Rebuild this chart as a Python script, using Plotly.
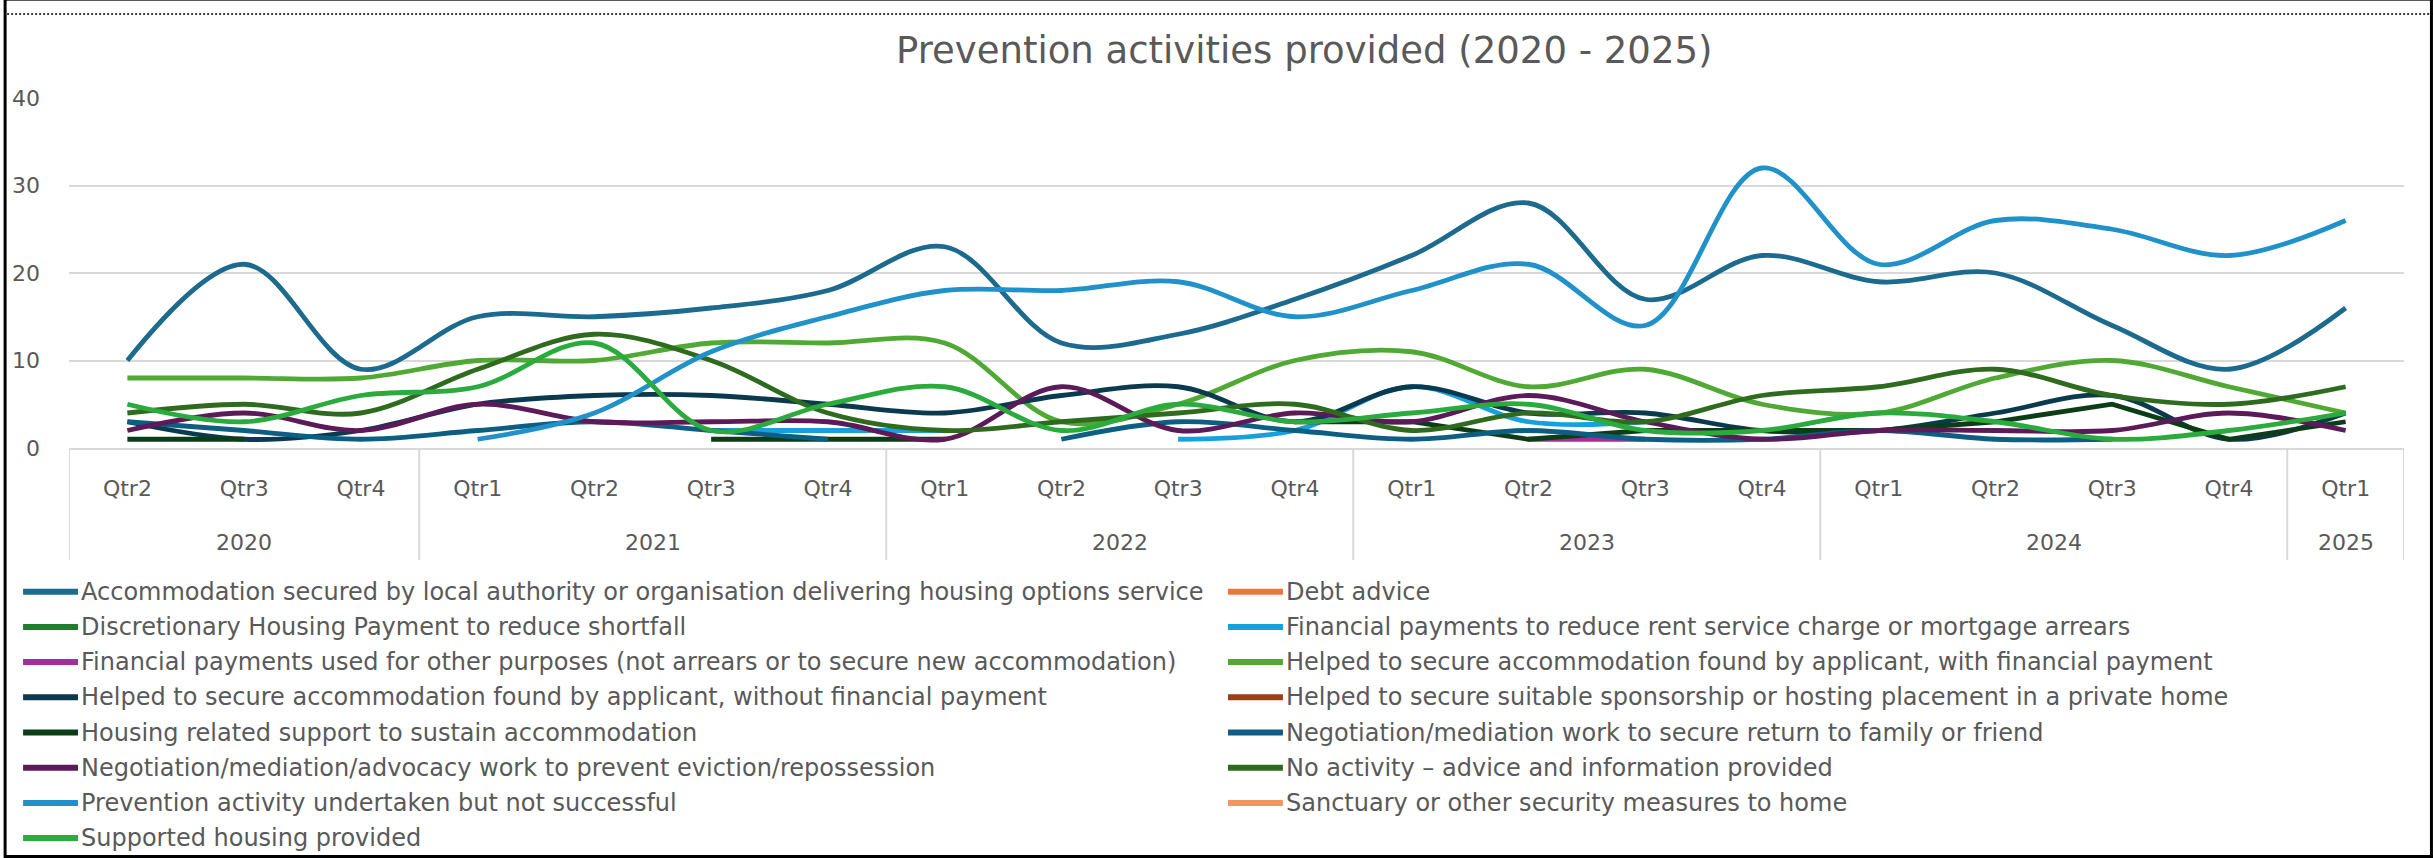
import plotly.graph_objects as go

# ---- data -------------------------------------------------------------
years = ["2020"] * 3 + ["2021"] * 4 + ["2022"] * 4 + ["2023"] * 4 + ["2024"] * 4 + ["2025"]
quarters = ["Qtr2", "Qtr3", "Qtr4",
            "Qtr1", "Qtr2", "Qtr3", "Qtr4",
            "Qtr1", "Qtr2", "Qtr3", "Qtr4",
            "Qtr1", "Qtr2", "Qtr3", "Qtr4",
            "Qtr1", "Qtr2", "Qtr3", "Qtr4",
            "Qtr1"]

accommodation_secured = [10, 21, 9, 15, 15, 16, 18, 23, 12, 13, 17, 22, 28, 17, 22, 19, 20, 14, 9, 16]
debt_advice = [None] * 20
discretionary_housing_payment = [None] * 20
financial_payments_arrears = [None, None, None, None, None, 2, 2, 2, None, 1, 2, 7, 3, 3,
                              None, None, None, None, None, None]
financial_payments_other = [None] * 12 + [1, 1] + [None] * 6
helped_with_payment = [8, 8, 8, 10, 10, 12, 12, 12, 3, 5, 10, 11, 7, 9, 5, 4, 8, 10, 7, 4]
helped_without_payment = [3, 1, 2, 5, 6, 6, 5, 4, 6, 7, 3, 7, 4, 4, 2, 2, 4, 6, 1, 4]
sponsorship_placement = [None] * 20
housing_related_support = [1, 1, None, None, None, 1, 1, 1, None, None, 3, 3, 1, 2, 2, 2, 3, 5, 1, 3]
mediation_return_family = [3, 2, 1, 2, 3, 2, 1, None, 1, 3, 2, 1, 2, 1, 1, 2, 1, 1, None, None]
mediation_prevent_eviction = [2, 4, 2, 5, 3, 3, 3, 1, 7, 2, 4, 3, 6, 3, 1, 2, 2, 2, 4, 2]
no_activity_advice = [4, 5, 4, 9, 13, 10, 4, 2, 3, 4, 5, 2, 4, 3, 6, 7, 9, 6, 5, 7]
prevention_unsuccessful = [None, None, None, 1, 4, 11, 15, 18, 18, 19, 15, 18, 21, 14, 32, 21, 26, 25, 22, 26]
sanctuary_measures = [None] * 20
supported_housing = [5, 3, 6, 7, 12, 2, 5, 7, 2, 5, 3, 4, 5, 2, 2, 4, 3, 1, 2, 4]

series = [
    ("Accommodation secured by local authority or organisation delivering housing options service",
     accommodation_secured, "#1C6A8D", "spline"),
    ("Debt advice", debt_advice, "#EA773B", "spline"),
    ("Discretionary Housing Payment to reduce shortfall", discretionary_housing_payment, "#247A2E", "spline"),
    ("Financial payments to reduce rent service charge or mortgage arrears",
     financial_payments_arrears, "#18A0DD", "spline"),
    ("Financial payments used for other purposes (not arrears or to secure new accommodation)",
     financial_payments_other, "#A32E98", "spline"),
    ("Helped to secure accommodation found by applicant, with financial payment",
     helped_with_payment, "#50A935", "spline"),
    ("Helped to secure accommodation found by applicant, without financial payment",
     helped_without_payment, "#0B3A4F", "spline"),
    ("Helped to secure suitable sponsorship or hosting placement in a private home",
     sponsorship_placement, "#9A4014", "spline"),
    ("Housing related support to sustain accommodation", housing_related_support, "#0D3D17", "linear"),
    ("Negotiation/mediation work to secure return to family or friend",
     mediation_return_family, "#0C5E82", "spline"),
    ("Negotiation/mediation/advocacy work to prevent eviction/repossession",
     mediation_prevent_eviction, "#5D1A58", "spline"),
    ("No activity – advice and information provided", no_activity_advice, "#2F6B1F", "spline"),
    ("Prevention activity undertaken but not successful", prevention_unsuccessful, "#2192C9", "spline"),
    ("Sanctuary or other security measures to home", sanctuary_measures, "#F29565", "spline"),
    ("Supported housing provided", supported_housing, "#2BAA3D", "spline"),
]

# ---- geometry (pixels) -----------------------------------------------
W, H = 2433, 858
PL, PR, PT, PB = 65, 2404, 98, 448          # plot-area edges
TEXT = "#595959"
GRID = "#D9D9D9"
FONT = "DejaVu Sans"


def fx(x):
    return (x - PL) / (PR - PL)


def fy(y):
    return (PB - y) / (PB - PT)


positions = list(range(len(quarters)))

fig = go.Figure()
for name, vals, color, shape in series:
    fig.add_trace(go.Scatter(
        x=positions, y=vals, name=name, mode="lines",
        line=dict(color=color, width=4.8, shape=shape, smoothing=1),
        connectgaps=False, showlegend=False,
    ))

shapes = []
annotations = []

# year groups under the quarter labels, with dividers between them
groups = []
for i, yr in enumerate(years):
    if not groups or groups[-1][0] != yr:
        groups.append([yr, i, i])
    else:
        groups[-1][2] = i
for yr, first, last in groups:
    annotations.append(dict(text=yr, xref="x", yref="paper", x=(first + last) / 2, y=fy(542),
                            xanchor="center", yanchor="middle", showarrow=False,
                            font=dict(family=FONT, size=22, color=TEXT)))
bounds = [g[1] - 0.5 for g in groups] + [groups[-1][2] + 0.5]
for b in bounds:
    shapes.append(dict(type="line", xref="x", yref="paper", x0=b, x1=b, y0=fy(PB), y1=fy(560),
                       line=dict(color=GRID, width=2)))

# legend, two columns filled row by row
for k, (name, _, color, _) in enumerate(series):
    col, row = k % 2, k // 2
    x0 = 19 if col == 0 else 1226
    yc = 591.7 + row * 35.2
    shapes.append(dict(type="line", xref="paper", yref="paper",
                       x0=fx(x0), x1=fx(x0 + 55), y0=fy(yc), y1=fy(yc),
                       line=dict(color=color, width=6)))
    annotations.append(dict(text=name, xref="paper", yref="paper",
                            x=fx(x0 + 56), y=fy(yc), xanchor="left", yanchor="middle",
                            showarrow=False, font=dict(family=FONT, size=24, color=TEXT)))

# title
annotations.append(dict(text="Prevention activities provided (2020 - 2025)",
                        xref="paper", yref="paper", x=fx(1302), y=fy(51),
                        xanchor="center", yanchor="middle", showarrow=False,
                        font=dict(family=FONT, size=37, color=TEXT)))

# outer frame
shapes += [
    dict(type="line", xref="paper", yref="paper", x0=fx(0), x1=fx(W), y0=fy(0.5), y1=fy(0.5),
         line=dict(color="#595959", width=1)),
    dict(type="line", xref="paper", yref="paper", x0=fx(3), x1=fx(W), y0=fy(14), y1=fy(14),
         line=dict(color="#000000", width=1.5, dash="2px,2px")),
    dict(type="line", xref="paper", yref="paper", x0=fx(1), x1=fx(1), y0=fy(0), y1=fy(H),
         line=dict(color="#000000", width=3)),
    dict(type="line", xref="paper", yref="paper", x0=fx(W - 1.5), x1=fx(W - 1.5), y0=fy(0), y1=fy(H),
         line=dict(color="#000000", width=3)),
    dict(type="line", xref="paper", yref="paper", x0=fx(0), x1=fx(W), y0=fy(H - 1.5), y1=fy(H - 1.5),
         line=dict(color="#000000", width=3)),
]

fig.update_layout(
    width=W, height=H,
    margin=dict(l=PL, r=W - PR, t=PT, b=H - PB, pad=0),
    paper_bgcolor="white", plot_bgcolor="white",
    font=dict(family=FONT, color=TEXT, size=22),
    shapes=shapes, annotations=annotations,
    showlegend=False,
)
fig.update_xaxes(
    range=[-0.5, len(quarters) - 0.5], tickvals=positions, ticktext=quarters,
    showgrid=False, showline=True, linecolor=GRID, linewidth=2, zeroline=False,
    ticks="", ticklabelstandoff=20,
    tickfont=dict(family=FONT, size=22, color=TEXT),
)
fig.update_yaxes(
    range=[0, 40], dtick=10, showgrid=True, gridcolor=GRID, gridwidth=2,
    zeroline=False, showline=False, ticks="", ticklabelstandoff=28,
    tickfont=dict(family=FONT, size=22, color=TEXT),
)

fig.write_html("out.html")
